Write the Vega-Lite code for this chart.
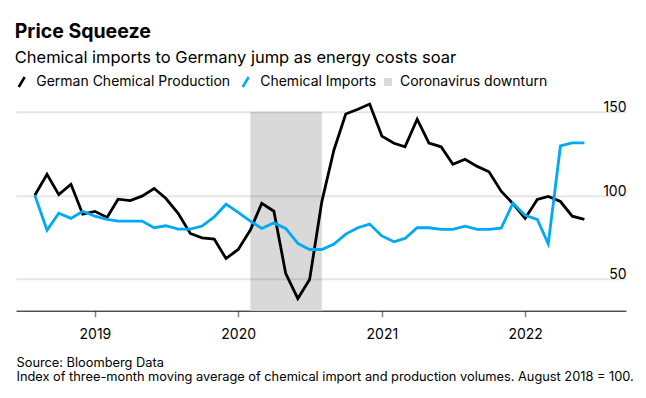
{
  "$schema": "https://vega.github.io/schema/vega-lite/v6.json",
  "width": 610,
  "height": 199,
  "autosize": {"type": "none"},
  "padding": {"left": 16, "top": 111.7, "right": 20, "bottom": 87.3},
  "background": "#ffffff",
  "config": {
    "view": {"stroke": null},
    "font": "Inter",
    "legend": {"orient": "none", "direction": "horizontal", "title": null, "labelFont": "Inter", "labelFontSize": 14, "labelColor": "#000000", "columnPadding": 7, "labelLimit": 0}
  },
  "title": {
    "text": "Price Squeeze",
    "subtitle": "Chemical imports to Germany jump as energy costs soar",
    "anchor": "start",
    "font": "Inter",
    "fontSize": 19.5,
    "fontWeight": "bold",
    "color": "#000000",
    "subtitleFont": "Inter",
    "subtitleFontSize": 16.5,
    "subtitleColor": "#000000",
    "subtitlePadding": 7,
    "offset": 8
  },
  "datasets": {
    "band": [{"start": "2020-02-01", "end": "2020-08-01", "label": "Coronavirus downturn"}],
    "production": [
      {"date": "2018-08-01", "series": "German Chemical Production", "value": 100},
      {"date": "2018-09-01", "series": "German Chemical Production", "value": 112.6},
      {"date": "2018-10-01", "series": "German Chemical Production", "value": 100.4},
      {"date": "2018-11-01", "series": "German Chemical Production", "value": 106.6},
      {"date": "2018-12-01", "series": "German Chemical Production", "value": 88.7},
      {"date": "2019-01-01", "series": "German Chemical Production", "value": 90.4},
      {"date": "2019-02-01", "series": "German Chemical Production", "value": 86.8},
      {"date": "2019-03-01", "series": "German Chemical Production", "value": 97.7},
      {"date": "2019-04-01", "series": "German Chemical Production", "value": 96.8},
      {"date": "2019-05-01", "series": "German Chemical Production", "value": 99.5},
      {"date": "2019-06-01", "series": "German Chemical Production", "value": 104.1},
      {"date": "2019-07-01", "series": "German Chemical Production", "value": 98.1},
      {"date": "2019-08-01", "series": "German Chemical Production", "value": 89.2},
      {"date": "2019-09-01", "series": "German Chemical Production", "value": 77.2},
      {"date": "2019-10-01", "series": "German Chemical Production", "value": 74.6},
      {"date": "2019-11-01", "series": "German Chemical Production", "value": 73.8},
      {"date": "2019-12-01", "series": "German Chemical Production", "value": 62.2},
      {"date": "2020-01-01", "series": "German Chemical Production", "value": 67.6},
      {"date": "2020-02-01", "series": "German Chemical Production", "value": 79.2},
      {"date": "2020-03-01", "series": "German Chemical Production", "value": 95.2},
      {"date": "2020-04-01", "series": "German Chemical Production", "value": 90.5},
      {"date": "2020-05-01", "series": "German Chemical Production", "value": 53.4},
      {"date": "2020-06-01", "series": "German Chemical Production", "value": 38.3},
      {"date": "2020-07-01", "series": "German Chemical Production", "value": 49.6},
      {"date": "2020-08-01", "series": "German Chemical Production", "value": 96.1},
      {"date": "2020-09-01", "series": "German Chemical Production", "value": 127.1},
      {"date": "2020-10-01", "series": "German Chemical Production", "value": 148.6},
      {"date": "2020-11-01", "series": "German Chemical Production", "value": 151.5},
      {"date": "2020-12-01", "series": "German Chemical Production", "value": 154.6},
      {"date": "2021-01-01", "series": "German Chemical Production", "value": 135.4},
      {"date": "2021-02-01", "series": "German Chemical Production", "value": 131.1},
      {"date": "2021-03-01", "series": "German Chemical Production", "value": 129.0},
      {"date": "2021-04-01", "series": "German Chemical Production", "value": 145.5},
      {"date": "2021-05-01", "series": "German Chemical Production", "value": 131.2},
      {"date": "2021-06-01", "series": "German Chemical Production", "value": 129.0},
      {"date": "2021-07-01", "series": "German Chemical Production", "value": 118.6},
      {"date": "2021-08-01", "series": "German Chemical Production", "value": 121.6},
      {"date": "2021-09-01", "series": "German Chemical Production", "value": 117.3},
      {"date": "2021-10-01", "series": "German Chemical Production", "value": 114.1},
      {"date": "2021-11-01", "series": "German Chemical Production", "value": 102.5},
      {"date": "2021-12-01", "series": "German Chemical Production", "value": 95.0},
      {"date": "2022-01-01", "series": "German Chemical Production", "value": 86.2},
      {"date": "2022-02-01", "series": "German Chemical Production", "value": 97.5},
      {"date": "2022-03-01", "series": "German Chemical Production", "value": 99.3},
      {"date": "2022-04-01", "series": "German Chemical Production", "value": 96.3},
      {"date": "2022-05-01", "series": "German Chemical Production", "value": 87.5},
      {"date": "2022-06-01", "series": "German Chemical Production", "value": 85.6}
    ],
    "imports": [
      {"date": "2018-08-01", "series": "Chemical Imports", "value": 100},
      {"date": "2018-09-01", "series": "Chemical Imports", "value": 79.2},
      {"date": "2018-10-01", "series": "Chemical Imports", "value": 89.3},
      {"date": "2018-11-01", "series": "Chemical Imports", "value": 86.2},
      {"date": "2018-12-01", "series": "Chemical Imports", "value": 90.5},
      {"date": "2019-01-01", "series": "Chemical Imports", "value": 87.5},
      {"date": "2019-02-01", "series": "Chemical Imports", "value": 85.6},
      {"date": "2019-03-01", "series": "Chemical Imports", "value": 84.6},
      {"date": "2019-04-01", "series": "Chemical Imports", "value": 84.6},
      {"date": "2019-05-01", "series": "Chemical Imports", "value": 84.6},
      {"date": "2019-06-01", "series": "Chemical Imports", "value": 80.6},
      {"date": "2019-07-01", "series": "Chemical Imports", "value": 81.8},
      {"date": "2019-08-01", "series": "Chemical Imports", "value": 79.8},
      {"date": "2019-09-01", "series": "Chemical Imports", "value": 79.8},
      {"date": "2019-10-01", "series": "Chemical Imports", "value": 81.6},
      {"date": "2019-11-01", "series": "Chemical Imports", "value": 87.1},
      {"date": "2019-12-01", "series": "Chemical Imports", "value": 94.7},
      {"date": "2020-01-01", "series": "Chemical Imports", "value": 89.8},
      {"date": "2020-02-01", "series": "Chemical Imports", "value": 84.6},
      {"date": "2020-03-01", "series": "Chemical Imports", "value": 80.2},
      {"date": "2020-04-01", "series": "Chemical Imports", "value": 83.5},
      {"date": "2020-05-01", "series": "Chemical Imports", "value": 80.2},
      {"date": "2020-06-01", "series": "Chemical Imports", "value": 71.2},
      {"date": "2020-07-01", "series": "Chemical Imports", "value": 67.6},
      {"date": "2020-08-01", "series": "Chemical Imports", "value": 67.6},
      {"date": "2020-09-01", "series": "Chemical Imports", "value": 70.8},
      {"date": "2020-10-01", "series": "Chemical Imports", "value": 76.8},
      {"date": "2020-11-01", "series": "Chemical Imports", "value": 80.6},
      {"date": "2020-12-01", "series": "Chemical Imports", "value": 82.8},
      {"date": "2021-01-01", "series": "Chemical Imports", "value": 75.7},
      {"date": "2021-02-01", "series": "Chemical Imports", "value": 72.2},
      {"date": "2021-03-01", "series": "Chemical Imports", "value": 74.2},
      {"date": "2021-04-01", "series": "Chemical Imports", "value": 80.6},
      {"date": "2021-05-01", "series": "Chemical Imports", "value": 80.6},
      {"date": "2021-06-01", "series": "Chemical Imports", "value": 79.6},
      {"date": "2021-07-01", "series": "Chemical Imports", "value": 79.6},
      {"date": "2021-08-01", "series": "Chemical Imports", "value": 81.6},
      {"date": "2021-09-01", "series": "Chemical Imports", "value": 79.6},
      {"date": "2021-10-01", "series": "Chemical Imports", "value": 79.6},
      {"date": "2021-11-01", "series": "Chemical Imports", "value": 80.4},
      {"date": "2021-12-01", "series": "Chemical Imports", "value": 95.3},
      {"date": "2022-01-01", "series": "Chemical Imports", "value": 88.1},
      {"date": "2022-02-01", "series": "Chemical Imports", "value": 85.6},
      {"date": "2022-03-01", "series": "Chemical Imports", "value": 71.0},
      {"date": "2022-04-01", "series": "Chemical Imports", "value": 129.5},
      {"date": "2022-05-01", "series": "Chemical Imports", "value": 131.3},
      {"date": "2022-06-01", "series": "Chemical Imports", "value": 131.3}
    ]
  },
  "encoding": {
    "x": {
      "field": "date",
      "type": "temporal",
      "scale": {"type": "utc", "domain": [{"year": 2018, "month": 6, "date": 14, "utc": true}, {"year": 2022, "month": 9, "date": 15, "utc": true}]},
      "axis": {
        "orient": "bottom",
        "tickCount": {"interval": "year", "step": 1},
        "format": "%Y",
        "grid": false,
        "domainColor": "#000000",
        "domainWidth": 1,
        "tickColor": "#808080",
        "tickWidth": 1.5,
        "tickSize": 6,
        "labelPadding": 11,
        "labelFlush": false,
        "labelFont": "Inter",
        "labelFontSize": 14,
        "labelColor": "#000000",
        "title": ["Source: Bloomberg Data", "Index of three-month moving average of chemical import and production volumes. August 2018 = 100."],
        "titleFont": "Inter",
        "titleFontSize": 12.8,
        "titleFontWeight": "normal",
        "titleColor": "#000000",
        "titleAnchor": "start",
        "titleAlign": "left",
        "titleBaseline": "top",
        "titleX": 0,
        "titleY": 45.5,
        "titleLineHeight": 14
      }
    }
  },
  "layer": [
    {
      "data": {"name": "band"},
      "mark": {"type": "rect"},
      "encoding": {
        "x": {"field": "start", "type": "temporal"},
        "x2": {"field": "end"},
        "fill": {
          "field": "label",
          "type": "nominal",
          "scale": {"range": ["#d9d9d9"]},
          "legend": {"legendX": 365, "legendY": -36.7, "symbolType": "square", "symbolSize": 64, "labelOffset": 5}
        }
      }
    },
    {
      "data": {"name": "production"},
      "mark": {"type": "line", "strokeWidth": 2.8},
      "encoding": {
        "y": {
          "field": "value",
          "type": "quantitative",
          "scale": {"domain": [31, 150], "nice": false, "zero": false},
          "axis": {
            "orient": "right",
            "values": [50, 100, 150],
            "domain": false,
            "ticks": false,
            "tickSize": 0,
            "labelAlign": "right",
            "labelBaseline": "alphabetic",
            "labelPadding": 0,
            "labelDy": -6.5,
            "labelFont": "Inter",
            "labelFontSize": 14,
            "labelColor": "#000000",
            "grid": true,
            "gridColor": "#000000",
            "gridOpacity": 0.1,
            "gridWidth": 2,
            "title": null,
            "zindex": 1
          }
        },
        "color": {
          "field": "series",
          "type": "nominal",
          "scale": {"domain": ["German Chemical Production", "Chemical Imports"], "range": ["#000000", "#00a9f4"]},
          "legend": {"legendX": -1.3, "legendY": -36.7, "symbolType": "M-0.6,1L0.6,-1", "symbolSize": 100, "symbolStrokeWidth": 2.5, "labelOffset": 7.5}
        }
      }
    },
    {
      "data": {"name": "imports"},
      "mark": {"type": "line", "strokeWidth": 2.8},
      "encoding": {
        "y": {"field": "value", "type": "quantitative"},
        "color": {"field": "series", "type": "nominal"}
      }
    }
  ]
}
